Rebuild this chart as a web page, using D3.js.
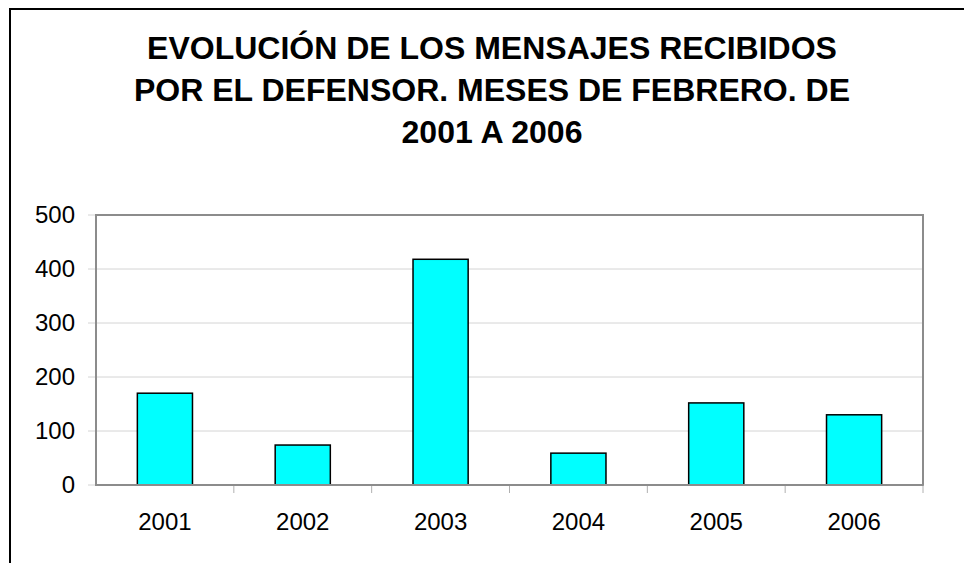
<!DOCTYPE html>
<html>
<head>
<meta charset="utf-8">
<script src="https://cdn.jsdelivr.net/npm/d3@7"></script>
<style>
  body { margin: 0; background: #fff; }
  svg { display: block; }
</style>
</head>
<body>
<script>
var years = ["2001", "2002", "2003", "2004", "2005", "2006"];
var mensajes = [170, 74, 418, 59, 152, 130];
var yTicks = [0, 100, 200, 300, 400, 500];
var titleLines = [
    "EVOLUCIÓN DE LOS MENSAJES RECIBIDOS",
    "POR EL DEFENSOR. MESES DE FEBRERO. DE",
    "2001 A 2006"
];

var width = 964, height = 563;
var plotLeft = 96, plotRight = 923, plotTop = 215, plotBottom = 485;

var svg = d3.select("body")
    .append("svg")
    .attr("width", width)
    .attr("height", height);

// outer frame (only left and top edges are visible)
svg.append("line")
    .attr("x1", 10).attr("x2", 10)
    .attr("y1", 8).attr("y2", height)
    .attr("stroke", "black").attr("stroke-width", 2);
svg.append("line")
    .attr("x1", 9).attr("x2", width)
    .attr("y1", 9).attr("y2", 9)
    .attr("stroke", "black").attr("stroke-width", 2);

svg.append("g")
    .selectAll("text")
    .data(titleLines)
    .enter()
    .append("text")
    .attr("x", 492)
    .attr("y", function (d, i) { return 59 + i * 42; })
    .attr("text-anchor", "middle")
    .attr("font-family", "Liberation Sans, Arial, sans-serif")
    .attr("font-weight", "bold")
    .attr("font-size", 32)
    .text(function (d) { return d; });

var x = d3.scaleBand()
    .domain(years)
    .range([plotLeft, plotRight])
    .paddingInner(0.6)
    .paddingOuter(0.3);

var xTick = d3.scaleBand()
    .domain(years)
    .range([plotLeft, plotRight]);

var y = d3.scaleLinear()
    .domain([0, 500])
    .range([plotBottom, plotTop]);

// gridlines
svg.append("g")
    .selectAll("line")
    .data(yTicks.slice(1))
    .enter()
    .append("line")
    .attr("x1", plotLeft - 8)
    .attr("x2", plotRight)
    .attr("y1", function (d) { return y(d); })
    .attr("y2", function (d) { return y(d); })
    .attr("stroke", "#d4d4d4")
    .attr("stroke-width", 1);

svg.append("line")
    .attr("x1", plotLeft - 8).attr("x2", plotLeft)
    .attr("y1", y(0)).attr("y2", y(0))
    .attr("stroke", "#d4d4d4");

// y labels
svg.append("g")
    .selectAll("text")
    .data(yTicks)
    .enter()
    .append("text")
    .attr("x", 75)
    .attr("y", function (d) { return y(d) + 8; })
    .attr("text-anchor", "end")
    .attr("font-family", "Liberation Sans, Arial, sans-serif")
    .attr("font-size", 24)
    .text(function (d) { return d; });

// plot border
svg.append("rect")
    .attr("x", plotLeft)
    .attr("y", plotTop)
    .attr("width", plotRight - plotLeft)
    .attr("height", plotBottom - plotTop)
    .attr("fill", "none")
    .attr("stroke", "#8c8c8c")
    .attr("stroke-width", 2);

// bars
svg.append("g")
    .selectAll("rect")
    .data(mensajes)
    .enter()
    .append("rect")
    .attr("x", function (d, i) { return x(years[i]); })
    .attr("y", function (d) { return y(d); })
    .attr("width", x.bandwidth())
    .attr("height", function (d) { return y(0) - y(d); })
    .attr("fill", "#00ffff")
    .attr("stroke", "black")
    .attr("stroke-width", 1.5);

// category separators
svg.append("g")
    .selectAll("line")
    .data(years.slice(1).concat(["end"]))
    .enter()
    .append("line")
    .attr("x1", function (d, i) { return plotLeft + xTick.bandwidth() * (i + 1); })
    .attr("x2", function (d, i) { return plotLeft + xTick.bandwidth() * (i + 1); })
    .attr("y1", plotBottom)
    .attr("y2", plotBottom + 8)
    .attr("stroke", "#b0b0b0")
    .attr("stroke-width", 1);

// bottom axis line redrawn over bar strokes
svg.append("line")
    .attr("x1", plotLeft).attr("x2", plotRight)
    .attr("y1", plotBottom).attr("y2", plotBottom)
    .attr("stroke", "#8c8c8c")
    .attr("stroke-width", 2);

// x labels
svg.append("g")
    .selectAll("text")
    .data(years)
    .enter()
    .append("text")
    .attr("x", function (d) { return xTick(d) + xTick.bandwidth() / 2; })
    .attr("y", 530)
    .attr("text-anchor", "middle")
    .attr("font-family", "Liberation Sans, Arial, sans-serif")
    .attr("font-size", 24)
    .text(function (d) { return d; });
</script>
</body>
</html>
